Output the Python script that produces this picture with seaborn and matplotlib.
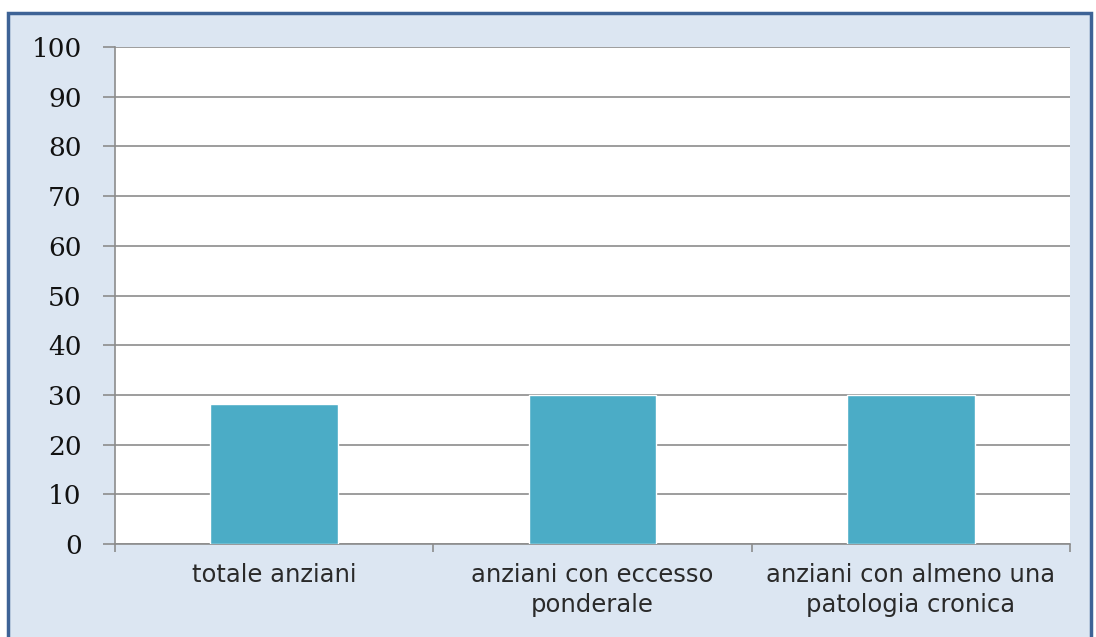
import matplotlib
matplotlib.use("Agg")
import matplotlib.pyplot as plt
from matplotlib.patches import Rectangle
import seaborn as sns
import pandas as pd

categories = ["totale anziani", "anziani con eccesso\nponderale", "anziani con almeno una\npatologia cronica"]
values = [28.1, 30.0, 30.0]
y_ticks = [0, 10, 20, 30, 40, 50, 60, 70, 80, 90, 100]

df = pd.DataFrame({"cat": categories, "val": values})

sns.set_theme(style="white")
plt.rcParams["font.family"] = ["DejaVu Sans"]

bg = "#DCE6F2"
fig = plt.figure(figsize=(10.96, 6.37), dpi=100)
fig.patch.set_facecolor("white")
# framed panel background
fig.patches.append(Rectangle((8/1096, -0.05), (1091-8)/1096, 1 - 13/637 + 0.05,
                             transform=fig.transFigure, facecolor=bg,
                             edgecolor="#3E6396", linewidth=2.5, zorder=-5))

ax = fig.add_axes([115/1096, 1 - 544/637, (1070-115)/1096, (544-47)/637])
ax.set_zorder(2)
ax.set_facecolor("white")
sns.barplot(data=df, x="cat", y="val", color="#4BACC6", saturation=1, width=0.4, ax=ax, zorder=3)

ax.set_ylim(0, 100)
ax.set_xlim(-0.5, 2.5)
ax.set_yticks(y_ticks)
ax.set_yticklabels([str(t) for t in y_ticks], fontfamily="DejaVu Serif", fontsize=19, color="#111111")
ax.yaxis.grid(True, color="#8C8C8C", linewidth=1.2, zorder=0)
ax.set_axisbelow(True)
ax.tick_params(axis="y", which="major", length=9, width=1.2, color="#8C8C8C", pad=15, left=True)

ax.set_xticks(range(len(categories)))
ax.set_xticklabels(categories, fontsize=17.5, color="#2a2a2a", linespacing=1.3)
ax.tick_params(axis="x", which="major", length=0, pad=14)
ax.set_xticks([-0.5, 0.5, 1.5, 2.5], minor=True)
ax.tick_params(axis="x", which="minor", length=6, width=1.2, color="#8C8C8C", bottom=True)

ax.set_xlabel("")
ax.set_ylabel("")
for s in ["top", "right"]:
    ax.spines[s].set_visible(False)
for s in ["left", "bottom"]:
    ax.spines[s].set_color("#8C8C8C")
    ax.spines[s].set_linewidth(1.2)

fig.savefig("out.png", dpi=100, facecolor=fig.get_facecolor())
